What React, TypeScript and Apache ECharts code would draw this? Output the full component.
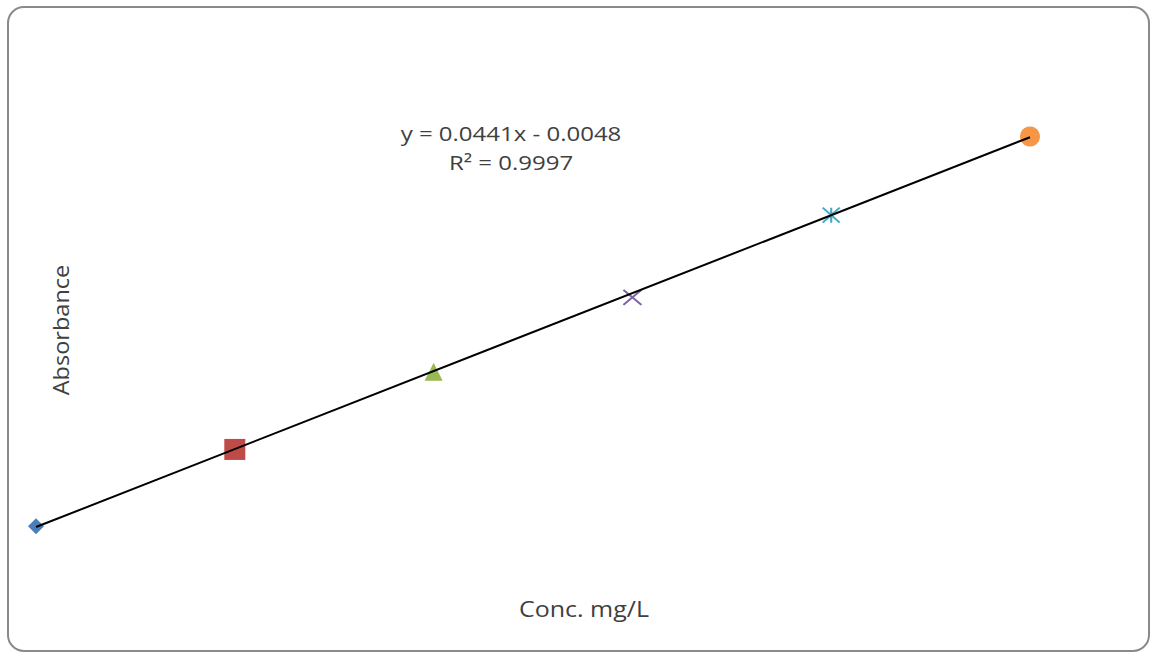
import React, { useEffect, useRef } from "react";
import * as echarts from "echarts";

const concentrations = [0, 2, 4, 6, 8, 10];
const absorbances = [-0.004, 0.083, 0.171, 0.255, 0.348, 0.437];
const slope = 0.0441;
const intercept = -0.0048;
const equationText = "y = 0.0441x - 0.0048";
const r2Text = "R² = 0.9997";
const xTitle = "Conc. mg/L";
const yTitle = "Absorbance";

const markerSymbols = [
  "diamond",
  "rect",
  "triangle",
  "path://M0,0 L10,10 M10,0 L0,10",
  "path://M0,0 L10,10 M10,0 L0,10 M5,0 L5,10",
  "circle",
];
const markerColors = ["#4a7ebb", "#be4b48", "#98b954", "#7d60a0", "#46aac5", "#f79646"];
const markerSizes: any[] = [16, 21, 18, [18, 15], [17, 15], 20];
const markerStroked = [false, false, false, true, true, false];

export default function App() {
  const ref = useRef<HTMLDivElement>(null);
  useEffect(() => {
    if (!ref.current) return;
    const chart = echarts.init(ref.current, null, { renderer: "svg" });
    const pts = concentrations.map((x, i) => ({
      value: [x, absorbances[i]],
      symbol: markerSymbols[i],
      symbolSize: markerSizes[i],
      itemStyle: markerStroked[i]
        ? { color: "none", borderColor: markerColors[i], borderWidth: 2, opacity: 1 }
        : { color: markerColors[i], opacity: 1 },
    }));
    const x0 = concentrations[0];
    const x1 = concentrations[concentrations.length - 1];
    const trend = [
      [x0, slope * x0 + intercept],
      [x1, slope * x1 + intercept],
    ];
    const font = (s: number) => `${s}px "Open Sans", sans-serif`;
    chart.setOption({
      animation: false,
      backgroundColor: "#ffffff",
      grid: { left: 36, right: 125, top: 125, bottom: 86 },
      xAxis: { type: "value", min: 0, max: 10, show: false },
      yAxis: { type: "value", min: -0.05, max: 0.45, show: false },
      series: [
        {
          type: "line",
          data: trend,
          symbol: "none",
          lineStyle: { color: "#000000", width: 2 },
          z: 3,
        },
        { type: "scatter", data: pts, z: 2 },
      ],
      graphic: [
        {
          type: "rect",
          shape: { x: 8, y: 7, width: 1141, height: 644, r: 16 },
          style: { fill: "none", stroke: "#8a8a8a", lineWidth: 2 },
          z: -10,
        },
        {
          type: "text",
          x: 511,
          y: 133,
          scaleX: 1.2,
          style: { text: equationText, font: font(20), fill: "#404040", align: "center", verticalAlign: "middle" },
        },
        {
          type: "text",
          x: 511,
          y: 162,
          scaleX: 1.2,
          style: { text: r2Text, font: font(20), fill: "#404040", align: "center", verticalAlign: "middle" },
        },
        {
          type: "text",
          x: 584,
          y: 609,
          scaleX: 1.19,
          style: { text: xTitle, font: font(21), fill: "#404040", align: "center", verticalAlign: "middle" },
        },
        {
          type: "text",
          x: 61,
          y: 330,
          rotation: Math.PI / 2,
          scaleX: 1.12,
          style: { text: yTitle, font: font(21), fill: "#404040", align: "center", verticalAlign: "middle" },
        },
      ],
    });
    return () => chart.dispose();
  }, []);
  return (
    <div
      ref={ref}
      style={{ position: "fixed", left: 0, top: 0, width: 1155, height: 653, background: "#fff" }}
    />
  );
}
